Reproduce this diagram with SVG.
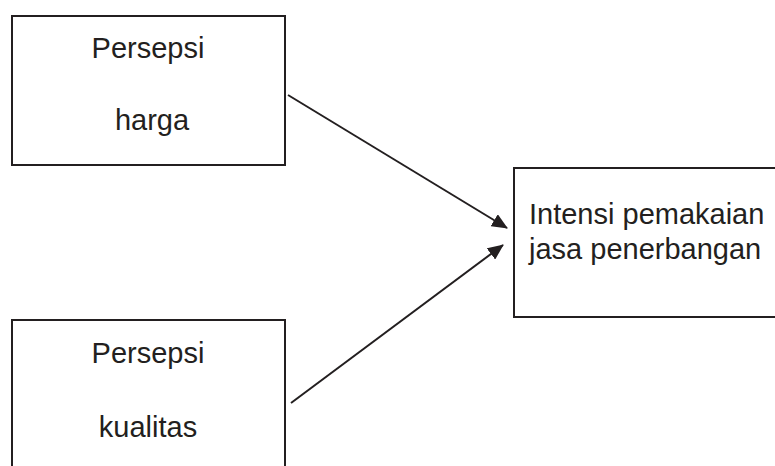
<svg xmlns="http://www.w3.org/2000/svg" width="775" height="466" viewBox="0 0 775 466">
  <style>
    .box { fill: #ffffff; stroke: #231f20; stroke-width: 2; }
    .lbl { font-family: "Liberation Sans", Arial, sans-serif; font-size: 29px; fill: #231f20; }
    .mid { text-anchor: middle; }
    .edge { stroke: #231f20; stroke-width: 2; fill: none; marker-end: url(#arrow); }
  </style>
  <defs>
    <marker id="arrow" viewBox="0 0 16 14" refX="15" refY="7" markerWidth="16" markerHeight="14" markerUnits="userSpaceOnUse" orient="auto">
      <path d="M0,0 L16,7 L0,14 Z" fill="#231f20"/>
    </marker>
  </defs>
  <rect width="775" height="466" fill="#ffffff"/>

  <g id="persepsi-harga">
    <rect class="box" x="12" y="16" width="273" height="149"/>
    <text class="lbl mid" x="148" y="58">Persepsi</text>
    <text class="lbl mid" x="152" y="130">harga</text>
  </g>

  <g id="persepsi-kualitas">
    <rect class="box" x="12" y="320" width="273" height="160"/>
    <text class="lbl mid" x="148" y="363">Persepsi</text>
    <text class="lbl mid" x="148" y="437">kualitas</text>
  </g>

  <g id="intensi">
    <rect class="box" x="514" y="168" width="275" height="149"/>
    <text class="lbl" x="529" y="224">Intensi pemakaian</text>
    <text class="lbl" x="529" y="259">jasa penerbangan</text>
  </g>

  <g id="connectors">
    <line class="edge" x1="288" y1="95" x2="507" y2="228"/>
    <line class="edge" x1="291" y1="403" x2="503" y2="245"/>
  </g>
</svg>
